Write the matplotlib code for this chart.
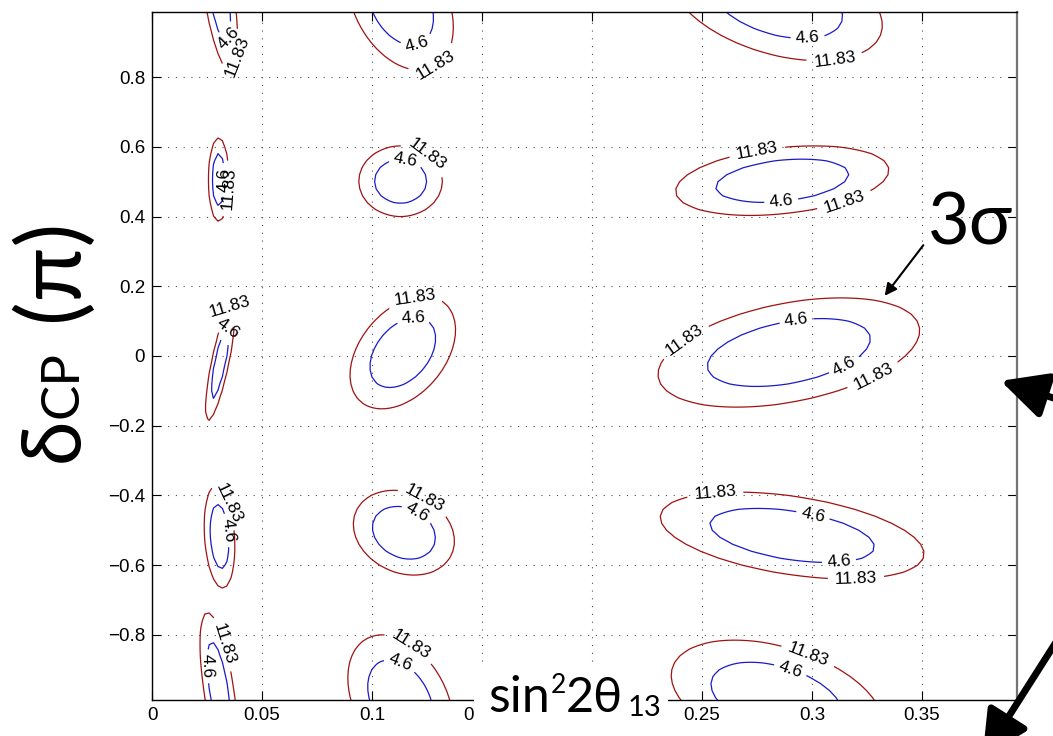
import numpy as np
import matplotlib
matplotlib.use("Agg")
import matplotlib.pyplot as plt
from matplotlib.patches import Rectangle

# chi^2 minima: centre, half-extent of the 11.83 contour, tilt
well_x = [0.0304, 0.0303, 0.031, 0.0307, 0.113, 0.113, 0.114, 0.1145, 0.284, 0.2865, 0.2895, 0.291]
well_d = [-0.96, 0.506, -0.018, -0.518, -0.99, 0.5015, 0.01, -0.507, -0.984, 0.503, 0.01, -0.515]
well_sx = [0.0086, 0.0047, 0.0068, 0.007, 0.024, 0.019, 0.024, 0.023, 0.048, 0.0485, 0.0595, 0.06]
well_sd = [0.224, 0.12, 0.168, 0.148, 0.19, 0.1015, 0.162, 0.122, 0.169, 0.10, 0.157, 0.125]
well_rho = [-0.6, 0.0, 0.8, -0.2, -0.35, 0.0, 0.4, -0.2, -0.4, 0.3, 0.4, -0.42]

levels = [4.6, 11.83]
level_colors = ["#1a1ac8", "#a01212"]
xticks = [0, 0.05, 0.1, 0.15, 0.2, 0.25, 0.3, 0.35]
xticklabels = ["0", "0.05", "0.1", "0.15", "0.2", "0.25", "0.3", "0.35"]
yticks = [-0.8, -0.6, -0.4, -0.2, 0, 0.2, 0.4, 0.6, 0.8]
yticklabels = ["\u22120.8", "\u22120.6", "\u22120.4", "\u22120.2", "0", "0.2", "0.4", "0.6", "0.8"]

# where the contour labels sit (data coords), per level
labels_46 = [
    (0.0368, 0.907), (0.034, 0.505), (0.0346, 0.08), (0.0346, -0.5), (0.028, -0.89),
    (0.12, 0.907), (0.115, 0.548), (0.119, 0.095), (0.12, -0.456), (0.111, -0.91),
    (0.298, 0.915), (0.286, 0.447), (0.293, 0.1), (0.313, -0.006),
    (0.3, -0.47), (0.312, -0.566), (0.289, -0.924),
]
labels_1183 = [
    (0.0386, 0.858), (0.0355, 0.48), (0.0355, 0.14), (0.0355, -0.42), (0.028, -0.835),
    (0.126, 0.864), (0.123, 0.562), (0.12, 0.155), (0.123, -0.42), (0.115, -0.853),
    (0.31, 0.864), (0.275, 0.591), (0.314, 0.457), (0.241, 0.055), (0.328, -0.06),
    (0.256, -0.394), (0.32, -0.637), (0.297, -0.88),
]

x = np.linspace(0, 0.4, 201)
d = np.linspace(-1, 1, 101)
X, D = np.meshgrid(x, d)
chi2 = np.full(X.shape, 1e3)
for x0, d0, sx, sd, r in zip(well_x, well_d, well_sx, well_sd, well_rho):
    u = (X - x0) / sx
    v = ((D - d0 + 1) % 2 - 1) / sd
    q = 11.83 * (u**2 - 2 * r * u * v + v**2) / (1 - r**2)
    chi2 = np.minimum(chi2, q)

W, H = 1053, 736
fig = plt.figure(figsize=(W / 100, H / 100), dpi=100)
ax = fig.add_axes([152 / W, 36 / H, 865 / W, 688 / H])

texts = []
for lev, col, pos in zip(levels, level_colors, [labels_46, labels_1183]):
    cs = ax.contour(X, D, chi2, levels=[lev], colors=[col], linewidths=0.9)
    texts += ax.clabel(cs, fmt={lev: f"{lev:g}"}, colors="k", fontsize=12.5,
                       inline=True, inline_spacing=3, manual=pos)
for t in texts:
    t.set_family("Liberation Sans")

ax.set_xlim(0, 0.3932)
ax.set_ylim(-0.987, 0.987)
ax.set_xticks(xticks)
ax.set_xticklabels(xticklabels)
ax.set_yticks(yticks)
ax.set_yticklabels(yticklabels)
ax.tick_params(direction="in", length=6.5, width=0.8, top=True, right=True,
               labelsize=13.5, pad=5)
for lab in ax.get_xticklabels() + ax.get_yticklabels():
    lab.set_family("Liberation Sans")
ax.grid(True, color="0.3", linestyle=(0, (1, 6)), linewidth=0.8)
for sp in ax.spines.values():
    sp.set_linewidth(1.0)
ax.spines["right"].set_color("0.45")
ax.spines["right"].set_linewidth(1.6)


def px(xp, yp):
    return xp / W, 1 - yp / H


big = ["Lato", "Noto Sans", "DejaVu Sans"]
renderer = fig.canvas.get_renderer()

# y label, rotated, pieces laid out bottom to top
yp = 462
for s, size, gap in [("δ", 58, 0), ("CP", 38, 30), ("(π)", 64, 0)]:
    t = fig.text(*px(78, yp), s, rotation=90, rotation_mode="anchor", ha="left",
                 va="baseline", fontsize=size, family=big)
    yp -= t.get_window_extent(renderer).height + gap

# x label sits on a white patch over the axis
fig.add_artist(Rectangle(px(474, 736), 194 / W, 68 / H, transform=fig.transFigure,
                         facecolor="white", edgecolor="none", zorder=5))
xp = 488
for s, base, size, gap in [("sin", 712, 36, 1), ("2", 693, 19, 0),
                           ("2θ", 712, 35, 4), ("13", 716, 21, 0)]:
    t = fig.text(*px(xp, base), s, ha="left", va="baseline", fontsize=size,
                 family=big, zorder=6)
    xp += t.get_window_extent(renderer).width + gap

fig.text(*px(928, 245), "3σ", ha="left", va="baseline", fontsize=52, family=big)
ax.annotate("", xy=(883, H - 298), xytext=(925, H - 243), xycoords="figure pixels",
            arrowprops=dict(arrowstyle="-|>", color="k", lw=1.5, mutation_scale=18),
            annotation_clip=False)

for start, tip in [((1075, H - 405), (998, H - 380)), ((1100, H - 573), (981, H - 760))]:
    ax.annotate("", xy=tip, xytext=start, xycoords="figure pixels",
                arrowprops=dict(arrowstyle="-|>,head_length=0.7,head_width=0.35",
                                color="k", lw=5, mutation_scale=40),
                annotation_clip=False)

fig.savefig("out.png", dpi=100)
